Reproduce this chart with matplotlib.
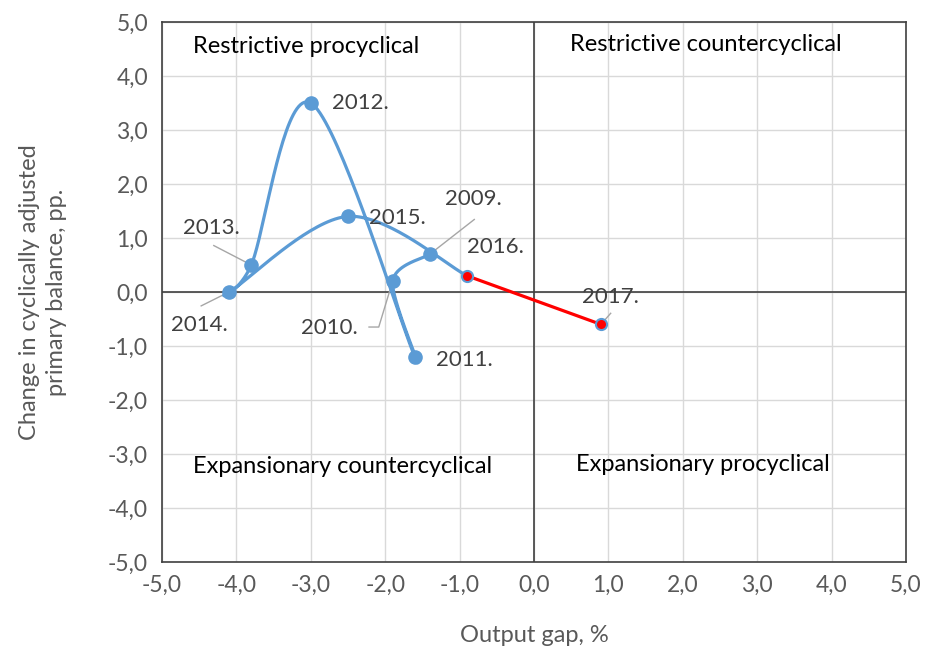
import numpy as np
import matplotlib
matplotlib.use("Agg")
import matplotlib.pyplot as plt

years = ["2009.", "2010.", "2011.", "2012.", "2013.", "2014.", "2015.", "2016.", "2017."]
output_gap = [-1.4, -1.9, -1.6, -3.0, -3.8, -4.1, -2.5, -0.9, 0.9]
cab_change = [0.7, 0.2, -1.2, 3.5, 0.5, 0.0, 1.4, 0.3, -0.6]
ticks = [-5, -4, -3, -2, -1, 0, 1, 2, 3, 4, 5]
quadrants = ["Restrictive procyclical", "Restrictive countercyclical",
             "Expansionary countercyclical", "Expansionary procyclical"]

FONT = ["Lato", "DejaVu Sans"]
plt.rcParams['font.family'] = FONT

BLUE = "#5B9BD5"
RED = "#FF0000"
GRID = "#D9D9D9"
TXT = "#595959"
LBL = "#404040"

fig = plt.figure(figsize=(9.27, 6.5), dpi=100)
ax = fig.add_axes([162/927, 88/650, 744/927, 540/650])
ax.set_xlim(-5, 5)
ax.set_ylim(-5, 5)
ax.set_xticks(ticks)
ax.set_yticks(ticks)
fmt = lambda v: f"{v:.1f}".replace(".", ",")
ax.set_xticklabels([fmt(t) for t in ticks])
ax.set_yticklabels([fmt(t) for t in ticks])
ax.tick_params(length=0, labelsize=16.5, colors=TXT)
ax.tick_params(axis="x", pad=9)
ax.tick_params(axis="y", pad=10)
ax.grid(True, color=GRID, linewidth=1)
ax.set_axisbelow(True)
for s in ax.spines.values():
    s.set_color("#404040")
    s.set_linewidth(1.2)
ax.axhline(0, color="#404040", linewidth=1.2, zorder=1)
ax.axvline(0, color="#404040", linewidth=1.2, zorder=1)

# Excel-like smoothing (Catmull-Rom in pixel-scaled space)
sx, sy = 74.4, 54.0
n_blue = 8
P = np.column_stack([np.array(output_gap[:n_blue]) * sx, np.array(cab_change[:n_blue]) * sy])
pts = []
for i in range(len(P) - 1):
    p0 = P[i - 1] if i > 0 else P[i]
    p1, p2 = P[i], P[i + 1]
    p3 = P[i + 2] if i + 2 < len(P) else P[i + 1]
    c1 = p1 + (p2 - p0) / 6
    c2 = p2 - (p3 - p1) / 6
    t = np.linspace(0, 1, 40)[:, None]
    seg = (1 - t) ** 3 * p1 + 3 * (1 - t) ** 2 * t * c1 + 3 * (1 - t) * t ** 2 * c2 + t ** 3 * p2
    pts.append(seg if i == 0 else seg[1:])
curve = np.vstack(pts)
ax.plot(curve[:, 0] / sx, curve[:, 1] / sy, color=BLUE, linewidth=2.3, zorder=3,
        solid_capstyle="round")
ax.plot(output_gap[:7], cab_change[:7], "o", color=BLUE, markersize=9.5, zorder=4)

# red segment
ax.plot(output_gap[7:], cab_change[7:], color=RED, linewidth=2.3, zorder=3)
ax.plot(output_gap[7:], cab_change[7:], "o", markerfacecolor=RED, markeredgecolor=BLUE,
        markeredgewidth=1.5, markersize=8, zorder=4)

# data labels (offsets in points)
lab_off = {
    "2009.": (11, 40), "2010.": (-66, -34), "2011.": (15, -2), "2012.": (15, 0),
    "2013.": (-49, 27), "2014.": (-42, -24), "2015.": (15, -1), "2016.": (0, 21),
    "2017.": (-14, 20),
}
for yr, xv, yv in zip(years, output_gap, cab_change):
    dx, dy = lab_off[yr]
    ax.annotate(yr, (xv, yv), xytext=(dx, dy), textcoords="offset points",
                fontsize=16, color=LBL, va="center", ha="left", zorder=5)

# leader lines (offsets in points from point)
def leader(i, segs):
    x0, y0 = output_gap[i], cab_change[i]
    px, py = ax.transData.transform((x0, y0))
    xs, ys = [px], [py]
    for dx, dy in segs:
        xs.append(px + dx * 100 / 72)
        ys.append(py + dy * 100 / 72)
    d = ax.transData.inverted().transform(np.column_stack([xs, ys]))
    ax.plot(d[:, 0], d[:, 1], color="#A6A6A6", linewidth=1, zorder=2)

fig.canvas.draw()
leader(0, [(32, 25)])
leader(1, [(-10, -33), (-17, -33)])
leader(4, [(-27, 14)])
leader(5, [(-20, -10)])
leader(8, [(7, 8)])

# quadrant labels
qfs = 17
ax.text(-3.06, 4.54, quadrants[0], ha="center", va="center", fontsize=qfs, color="black")
ax.text(2.31, 4.59, quadrants[1], ha="center", va="center", fontsize=qfs, color="black")
ax.text(-2.57, -3.24, quadrants[2], ha="center", va="center", fontsize=qfs, color="black")
ax.text(2.27, -3.2, quadrants[3], ha="center", va="center", fontsize=qfs, color="black")

fig.text(534/927, 1 - 636/650, "Output gap, %", fontsize=17, color=TXT,
         ha="center", va="center")
fig.text(43/927, 1 - 292/650, "Change in cyclically adjusted\nprimary balance, pp.",
         fontsize=17, color=TXT, ha="center", va="center", rotation=90,
         multialignment="center", linespacing=1.4)

fig.savefig("out.png", dpi=100)
